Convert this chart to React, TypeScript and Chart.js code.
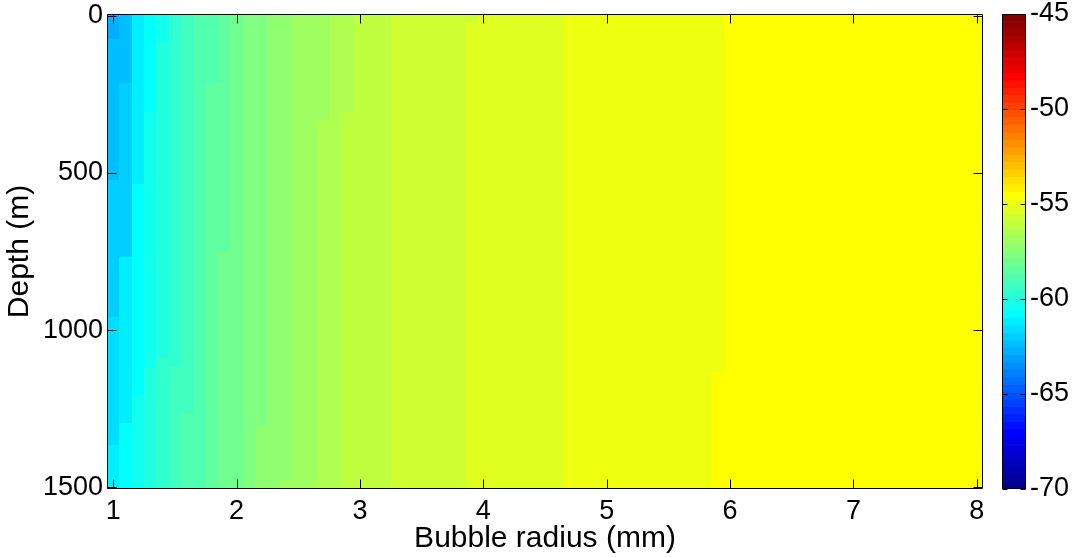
import React, { useEffect, useRef } from "react";
import { Chart, registerables } from "chart.js";

Chart.register(...registerables);

// ---------------- data ----------------
const radii = [
  1.0, 1.1, 1.2, 1.3, 1.4, 1.5, 1.6, 1.7, 1.8, 1.9,
  2.0, 2.1, 2.2, 2.3, 2.4, 2.5, 2.6, 2.7, 2.8, 2.9,
  3.0, 3.1, 3.2, 3.3, 3.4, 3.5, 3.6, 3.7, 3.8, 3.9,
  4.0, 4.1, 4.2, 4.3, 4.4, 4.5, 4.6, 4.7, 4.8, 4.9,
  5.0, 5.1, 5.2, 5.3, 5.4, 5.5, 5.6, 5.7, 5.8, 5.9,
  6.0, 6.1, 6.2, 6.3, 6.4, 6.5, 6.6, 6.7, 6.8, 6.9,
  7.0, 7.1, 7.2, 7.3, 7.4, 7.5, 7.6, 7.7, 7.8, 7.9,
  8.0,
];

// for each radius column: [depth where segment starts (m), level (dB)]
const columns: [number, number][][] = [
  [[0, -62.77], [75, -62.38], [524, -61.99], [957, -61.6], [1365, -61.21]], // 1.0
  [[0, -62.38], [214, -61.99], [767, -61.21], [1295, -60.82]], // 1.1
  [[0, -61.21], [535, -60.82], [1206, -60.43]], // 1.2
  [[0, -60.82], [306, -60.43], [1121, -60.04]], // 1.3
  [[0, -60.43], [83, -60.04], [1084, -59.65]], // 1.4
  [[0, -59.65], [1116, -59.26]], // 1.5
  [[0, -59.26], [1264, -58.87]], // 1.6
  [[0, -58.87]], // 1.7
  [[0, -58.87], [214, -58.48]], // 1.8
  [[0, -58.48], [755, -58.09]], // 1.9
  [[0, -58.09]], // 2.0
  [[0, -57.7]], // 2.1
  [[0, -57.7], [1305, -57.3]], // 2.2
  [[0, -57.3]], // 2.3
  [[0, -57.3], [1476, -56.91]], // 2.4
  [[0, -56.91]], // 2.5
  [[0, -56.91]], // 2.6
  [[0, -56.91], [333, -56.52]], // 2.7
  [[0, -56.52]], // 2.8
  [[0, -56.52], [306, -56.13]], // 2.9
  [[0, -56.13]], // 3.0
  [[0, -56.13]], // 3.1
  [[0, -56.13]], // 3.2
  [[0, -55.74]], // 3.3
  [[0, -55.74]], // 3.4
  [[0, -55.74]], // 3.5
  [[0, -55.74]], // 3.6
  [[0, -55.74]], // 3.7
  [[0, -55.74]], // 3.8
  [[0, -55.74], [25, -55.35]], // 3.9
  [[0, -55.35]], // 4.0
  [[0, -55.35]], // 4.1
  [[0, -55.35]], // 4.2
  [[0, -55.35]], // 4.3
  [[0, -55.35]], // 4.4
  [[0, -55.35]], // 4.5
  [[0, -55.35]], // 4.6
  [[0, -54.96]], // 4.7
  [[0, -54.96]], // 4.8
  [[0, -54.96]], // 4.9
  [[0, -54.96]], // 5.0
  [[0, -54.96]], // 5.1
  [[0, -54.96]], // 5.2
  [[0, -54.96]], // 5.3
  [[0, -54.96]], // 5.4
  [[0, -54.96]], // 5.5
  [[0, -54.96]], // 5.6
  [[0, -54.96]], // 5.7
  [[0, -54.96]], // 5.8
  [[0, -54.96], [1137, -54.57]], // 5.9
  [[0, -54.57]], // 6.0
  [[0, -54.57]], // 6.1
  [[0, -54.57]], // 6.2
  [[0, -54.57]], // 6.3
  [[0, -54.57]], // 6.4
  [[0, -54.57]], // 6.5
  [[0, -54.57]], // 6.6
  [[0, -54.57]], // 6.7
  [[0, -54.57]], // 6.8
  [[0, -54.57]], // 6.9
  [[0, -54.57]], // 7.0
  [[0, -54.57]], // 7.1
  [[0, -54.57]], // 7.2
  [[0, -54.57]], // 7.3
  [[0, -54.57]], // 7.4
  [[0, -54.57]], // 7.5
  [[0, -54.57]], // 7.6
  [[0, -54.57]], // 7.7
  [[0, -54.57]], // 7.8
  [[0, -54.57]], // 7.9
  [[0, -54.57]], // 8.0
];

const depthMin = -5;
const depthMax = 1505;
const radiusMin = 0.95;
const radiusMax = 8.05;
const xTicks = [1, 2, 3, 4, 5, 6, 7, 8];
const yTicks = [0, 500, 1000, 1500];
const cbTicks = [-70, -65, -60, -55, -50, -45];
const cMin = -70;
const cMax = -45;
const nColors = 64;

// ---------------- colormap (MATLAB jet, 64) ----------------
function u(k: number): number {
  if (k >= 1 && k <= 16) return k / 16;
  if (k >= 17 && k <= 31) return 1;
  if (k >= 32 && k <= 47) return (48 - k) / 16;
  return 0;
}
function jetColor(i: number): string {
  const r = Math.round(255 * u(i - 24));
  const g = Math.round(255 * u(i - 8));
  const b = Math.round(255 * u(i + 8));
  return `rgb(${r},${g},${b})`;
}
function colorFor(v: number): string {
  let i = Math.floor(((v - cMin) / (cMax - cMin)) * nColors) + 1;
  i = Math.max(1, Math.min(nColors, i));
  return jetColor(i);
}

const FONT = '"Liberation Sans", Arial, Helvetica, sans-serif';
const tickFont = { family: FONT, size: 27 };
const labelFont = { family: FONT, size: 30 };
const LINE = "#000";

const heatmapPlugin = {
  id: "heatmap",
  beforeDatasetsDraw(chart: any) {
    const { ctx, scales } = chart;
    const x = scales.x;
    const y = scales.y;
    ctx.save();
    radii.forEach((r, c) => {
      const prev = c > 0 ? radii[c - 1] : r - (radii[1] - radii[0]);
      const next = c < radii.length - 1 ? radii[c + 1] : r + (r - radii[c - 1]);
      const xl = Math.round(x.getPixelForValue((prev + r) / 2));
      const xr = Math.round(x.getPixelForValue((r + next) / 2));
      const segs = columns[c];
      segs.forEach((s, k) => {
        const d0 = k === 0 ? depthMin : s[0];
        const d1 = k === segs.length - 1 ? depthMax : segs[k + 1][0];
        const yt = Math.round(y.getPixelForValue(d0));
        const yb = Math.round(y.getPixelForValue(d1));
        ctx.fillStyle = colorFor(s[1]);
        ctx.fillRect(xl, yt, xr - xl, yb - yt);
      });
    });
    ctx.restore();
  },
};

const boxPlugin = {
  id: "axesBox",
  afterDraw(chart: any) {
    const { ctx, chartArea: a, scales } = chart;
    const x = scales.x;
    const y = scales.y;
    const L = Math.round(a.left) + 0.5;
    const R = Math.round(a.right) - 0.5;
    const T = Math.round(a.top) + 0.5;
    const B = Math.round(a.bottom) - 0.5;
    const tl = 9;
    ctx.save();
    ctx.strokeStyle = LINE;
    ctx.lineWidth = 1;
    ctx.beginPath();
    ctx.rect(L, T, R - L, B - T);
    xTicks.forEach((v) => {
      const px = Math.round(x.getPixelForValue(v)) + 0.5;
      ctx.moveTo(px, B);
      ctx.lineTo(px, B - tl);
      ctx.moveTo(px, T);
      ctx.lineTo(px, T + tl);
    });
    yTicks.forEach((v) => {
      const py = Math.round(y.getPixelForValue(v)) + 0.5;
      ctx.moveTo(L, py);
      ctx.lineTo(L + tl, py);
      ctx.moveTo(R, py);
      ctx.lineTo(R - tl, py);
    });
    ctx.stroke();
    ctx.restore();
  },
};

const cbBoxPlugin = {
  id: "cbBox",
  afterDraw(chart: any) {
    const { ctx, chartArea: a, scales } = chart;
    const y = scales.y;
    const L = Math.round(a.left) + 0.5;
    const R = Math.round(a.right) - 0.5;
    const T = Math.round(a.top) + 0.5;
    const B = Math.round(a.bottom) - 0.5;
    const tl = 5;
    ctx.save();
    ctx.strokeStyle = LINE;
    ctx.lineWidth = 1;
    ctx.beginPath();
    ctx.rect(L, T, R - L, B - T);
    cbTicks.forEach((v) => {
      const py = Math.round(y.getPixelForValue(v)) + 0.5;
      ctx.moveTo(L, py);
      ctx.lineTo(L + tl, py);
      ctx.moveTo(R, py);
      ctx.lineTo(R - tl, py);
    });
    ctx.stroke();
    ctx.restore();
  },
};

export default function App() {
  const mainRef = useRef<HTMLCanvasElement | null>(null);
  const cbRef = useRef<HTMLCanvasElement | null>(null);

  useEffect(() => {
    if (!mainRef.current || !cbRef.current) return;

    const main = new Chart(mainRef.current, {
      type: "scatter",
      data: { datasets: [{ data: [], pointRadius: 0 }] },
      options: {
        responsive: false,
        animation: false,
        events: [],
        layout: { padding: { left: 0, right: 90, top: 14, bottom: 0 }, autoPadding: false },
        plugins: { legend: { display: false }, tooltip: { enabled: false } },
        scales: {
          x: {
            type: "linear",
            position: "bottom",
            min: radiusMin,
            max: radiusMax,
            grid: { display: false, drawTicks: false },
            border: { display: false },
            afterBuildTicks: (s: any) => {
              s.ticks = xTicks.map((v) => ({ value: v }));
            },
            afterFit: (s: any) => {
              s.height = 68;
              s.paddingLeft = 0;
              s.paddingRight = 0;
            },
            ticks: {
              autoSkip: false,
              maxRotation: 0,
              minRotation: 0,
              font: tickFont,
              color: "#000",
              padding: 6,
              callback: (v: any) => String(v),
            },
            title: {
              display: true,
              text: "Bubble radius (mm)",
              font: labelFont,
              color: "#000",
              padding: { top: 0, bottom: 0 },
            },
          },
          y: {
            type: "linear",
            position: "left",
            reverse: true,
            min: depthMin,
            max: depthMax,
            grid: { display: false, drawTicks: false },
            border: { display: false },
            afterBuildTicks: (s: any) => {
              s.ticks = yTicks.map((v) => ({ value: v }));
            },
            afterFit: (s: any) => {
              s.width = 107;
              s.paddingTop = 0;
              s.paddingBottom = 0;
            },
            ticks: {
              autoSkip: false,
              font: tickFont,
              color: "#000",
              padding: 4,
              callback: (v: any) => String(v),
            },
            title: {
              display: true,
              text: "Depth (m)",
              font: labelFont,
              color: "#000",
              padding: { top: 2, bottom: 0 },
            },
          },
        },
      },
      plugins: [heatmapPlugin, boxPlugin],
    } as any);

    const step = (cMax - cMin) / nColors;
    const cbDatasets = Array.from({ length: nColors }, (_, i) => ({
      data: [[cMin + i * step, cMin + (i + 1) * step]],
      backgroundColor: jetColor(i + 1),
      borderWidth: 0,
      grouped: false,
      categoryPercentage: 1,
      barPercentage: 1,
    }));

    const cb = new Chart(cbRef.current, {
      type: "bar",
      data: { labels: [""], datasets: cbDatasets as any },
      options: {
        responsive: false,
        animation: false,
        events: [],
        layout: { padding: { left: 12, right: 0, top: 14, bottom: 68 }, autoPadding: false },
        plugins: { legend: { display: false }, tooltip: { enabled: false } },
        scales: {
          x: { display: false },
          y: {
            type: "linear",
            position: "right",
            min: cMin,
            max: cMax,
            grid: { display: false, drawTicks: false },
            border: { display: false },
            afterBuildTicks: (s: any) => {
              s.ticks = cbTicks.map((v) => ({ value: v }));
            },
            afterFit: (s: any) => {
              s.width = 47;
              s.paddingTop = 0;
              s.paddingBottom = 0;
            },
            ticks: {
              autoSkip: false,
              font: tickFont,
              color: "#000",
              padding: 4,
              callback: (v: any) => String(v),
            },
          },
        },
      },
      plugins: [cbBoxPlugin],
    } as any);

    return () => {
      main.destroy();
      cb.destroy();
    };
  }, []);

  return (
    <div
      style={{
        position: "fixed",
        left: 0,
        top: 0,
        width: 1073,
        height: 557,
        background: "#fff",
        overflow: "hidden",
      }}
    >
      <canvas
        ref={mainRef}
        width={1073}
        height={557}
        style={{ position: "absolute", left: 0, top: 0, width: 1073, height: 557 }}
      />
      <canvas
        ref={cbRef}
        width={83}
        height={557}
        style={{ position: "absolute", left: 990, top: 0, width: 83, height: 557 }}
      />
    </div>
  );
}
